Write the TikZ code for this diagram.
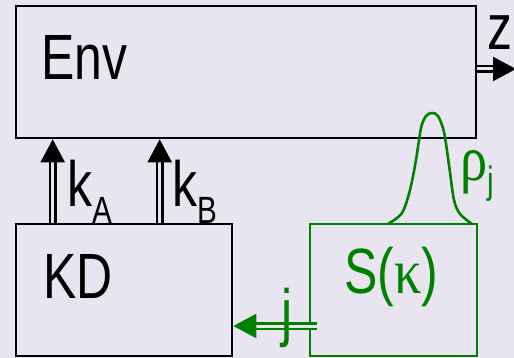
\documentclass[tikz,border=0pt]{standalone}
\usepackage{fontspec}
\setmainfont[FakeStretch=0.78]{Liberation Sans}
\newfontfamily\greekfont[FakeStretch=0.85]{Liberation Serif}
\usetikzlibrary{arrows.meta,positioning}
\definecolor{bgcol}{RGB}{233,229,240}
\definecolor{sgreen}{RGB}{0,128,0}
\newcommand{\lowsub}[2]{\raisebox{-#1}{\fontsize{38pt}{40pt}\selectfont #2}}

\begin{document}
\begin{tikzpicture}[x=1pt,y=-1pt,box/.style={draw,line width=2.6pt,inner sep=0pt,minimum height=132pt},lbl/.style={inner sep=0pt,anchor=base west,font=\fontsize{64pt}{70pt}\selectfont},dbl/.style={double=bgcol,line width=2.3pt,double distance=3pt,-{Triangle[length=23pt,width=24pt]}}]
\fill[bgcol] (0,0) rectangle (514,358);
\useasboundingbox (0,0) rectangle (514,358);
\node[box,minimum width=460pt] (env) at (246,72) {};
\node[box,minimum width=216pt] (kd) at (124,290) {};
\node[box,draw=sgreen,minimum width=167pt] (s) at (393.5,290) {};
\node[lbl] (envtext) at (41,80) {Env};
\node[lbl] (kdtext) at (43,298) {KD};
\node[lbl,text=sgreen] (stext) at (344,293) {S({\greekfont κ})};
% keys from KD up to Env
\coordinate (kaend) at ([xshift=38pt]kd.north west);
\coordinate (kbend) at ([xshift=145pt]kd.north west);
\draw[dbl] (kaend) -- (kaend |- env.south);
\draw[dbl] (kbend) -- (kbend |- env.south);
\node[lbl] (ka) at (67,207) {k\lowsub{17pt}{A}};
\node[lbl] (kb) at (172,207) {k\lowsub{17pt}{B}};
% output z
\coordinate (zstart) at ([yshift=3pt]env.east);
\coordinate (zend) at (516,69);
\draw[dbl] (zstart) -- (zend);
\node[lbl] (z) at (487,50) {z};
% density on top of S
\draw[sgreen,line width=2.6pt] plot[smooth] coordinates {(388,224) (402,213) (410,190) (416,160) (421,128) (426,116) (432,113) (438,116) (444,132) (449,165) (454,200) (460,214) (472,224)};
\node[lbl,text=sgreen] (rho) at (460,181) {{\greekfont ρ}\lowsub{13pt}{j}};
% index j back to KD
\coordinate (jstart) at ([shift={(8pt,-36pt)}]s.west);
\draw[dbl,draw=sgreen] (jstart) -- (jstart -| kd.east);
\node[lbl,text=sgreen] (j) at (281,334) {j};
\end{tikzpicture}
\end{document}
